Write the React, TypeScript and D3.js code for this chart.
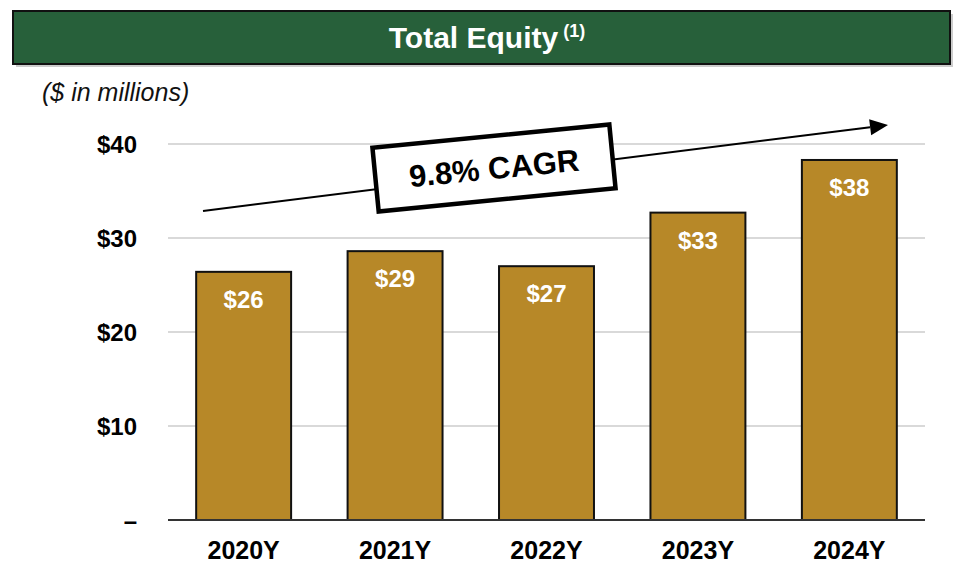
import * as React from "react";
import * as d3 from "d3";

const years = ["2020Y", "2021Y", "2022Y", "2023Y", "2024Y"];
const equity = [26.4, 28.6, 27.0, 32.7, 38.3];
const valueLabels = ["$26", "$29", "$27", "$33", "$38"];
const yTicks = [0, 10, 20, 30, 40];
const yTickLabels = ["–", "$10", "$20", "$30", "$40"];
const cagrLabel = "9.8% CAGR";

const sans = "'Liberation Sans', Arial, sans-serif";

export default function App() {
  const width = 963;
  const height = 575;

  const x = d3
    .scaleBand()
    .domain(years)
    .range([168, 925])
    .paddingInner(0.373)
    .paddingOuter(0.186);

  const y = d3.scaleLinear().domain([0, 40]).range([520, 144]);

  // trend arrow
  const ax1 = 203, ay1 = 211, ax2 = 888, ay2 = 125;
  const ang = Math.atan2(ay2 - ay1, ax2 - ax1);
  const head = 18;
  const hw = 8;
  const bx = ax2 - head * Math.cos(ang);
  const by = ay2 - head * Math.sin(ang);
  const arrowHead = [
    [ax2, ay2],
    [bx + hw * Math.sin(ang), by - hw * Math.cos(ang)],
    [bx - hw * Math.sin(ang), by + hw * Math.cos(ang)],
  ];

  return (
    <svg width={width} height={height} style={{ position: "absolute", left: 0, top: 0 }}>
      <rect width={width} height={height} fill="#fff" />
      {/* header */}
      <rect x={16} y={14} width={937} height={53} fill="#9a9a9a" opacity={0.5} />
      <rect x={13} y={11} width={937} height={53} fill="#27603a" stroke="#111" strokeWidth={2} />
      <text x={487} y={48} textAnchor="middle" fill="#fff" fontFamily={sans} fontWeight="bold" fontSize={30}>
        Total Equity
        <tspan fontSize={18} dy={-11} dx={5}>(1)</tspan>
      </text>
      <text x={42} y={101} fontFamily={sans} fontStyle="italic" fontSize={25} fill="#111">
        ($ in millions)
      </text>

      {/* gridlines */}
      {yTicks.filter((t) => t > 0).map((t) => (
        <line key={t} x1={168} x2={925} y1={y(t)} y2={y(t)} stroke="#d9d9d9" strokeWidth={2} />
      ))}

      {/* y labels */}
      {yTicks.map((t, i) => (
        <text
          key={"yl" + t}
          x={137}
          y={y(t)}
          dy="0.36em"
          textAnchor="end"
          fontFamily={sans}
          fontWeight="bold"
          fontSize={24}
          fill="#000"
        >
          {yTickLabels[i]}
        </text>
      ))}

      {/* bars */}
      {years.map((yr, i) => (
        <g key={yr}>
          <rect
            x={x(yr)}
            y={y(equity[i])}
            width={x.bandwidth()}
            height={y(0) - y(equity[i])}
            fill="#b78828"
            stroke="#111"
            strokeWidth={2}
          />
          <text
            x={(x(yr) as number) + x.bandwidth() / 2}
            y={y(equity[i]) + 36}
            textAnchor="middle"
            fill="#fff"
            fontFamily={sans}
            fontWeight="bold"
            fontSize={24}
          >
            {valueLabels[i]}
          </text>
          <text
            x={(x(yr) as number) + x.bandwidth() / 2}
            y={559}
            textAnchor="middle"
            fill="#000"
            fontFamily={sans}
            fontWeight="bold"
            fontSize={25}
          >
            {yr}
          </text>
        </g>
      ))}

      {/* baseline */}
      <line x1={168} x2={925} y1={y(0)} y2={y(0)} stroke="#333" strokeWidth={2} />

      {/* trend arrow */}
      <line x1={ax1} y1={ay1} x2={bx} y2={by} stroke="#000" strokeWidth={2} />
      <polygon points={arrowHead.map((p) => p.join(",")).join(" ")} fill="#000" />

      {/* CAGR box */}
      <g transform="translate(494,168) rotate(-5.6)">
        <rect x={-119} y={-32} width={238} height={64} fill="#fff" stroke="#000" strokeWidth={4.5} />
        <text x={0} y={11} textAnchor="middle" fontFamily={sans} fontWeight="bold" fontSize={31} fill="#000">
          {cagrLabel}
        </text>
      </g>
    </svg>
  );
}
